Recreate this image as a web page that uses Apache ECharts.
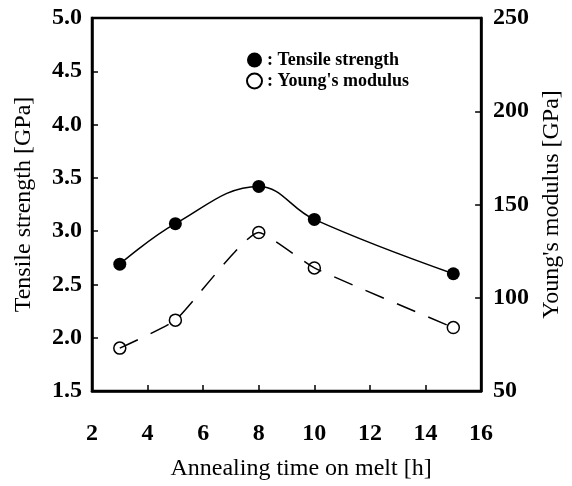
<!DOCTYPE html>
<html>
<head>
<meta charset="utf-8">
<title>Annealing time</title>
<script src="https://cdn.jsdelivr.net/npm/echarts@6/dist/echarts.min.js"></script>
<style>
    html, body { margin: 0; padding: 0; background: #fff; }
    #chart { width: 572px; height: 486px; }
</style>
</head>
<body>
<div id="chart"></div>
<script>
// 数据
var hours = [3, 5, 8, 10, 15];
var tensile = [2.69, 3.07, 3.42, 3.11, 2.60];
var young = [73, 88, 135, 116, 84];

var tensileName = 'Tensile strength';
var youngName = "Young's modulus";

function pairs(xs, ys) {
    var out = [];
    for (var i = 0; i < xs.length; i++) {
        out.push([xs[i], ys[i]]);
    }
    return out;
}

var font = 'Liberation Serif';
var chart = echarts.init(document.getElementById('chart'));

var tickStyle = { show: true, inside: true, length: 6, lineStyle: { color: '#000', width: 1.5 } };
var lineAxis = { show: true, lineStyle: { color: '#000', width: 2.5 } };

var option = {
    animation: false,
    backgroundColor: '#fff',
    grid: {
        left: 92,
        right: 89,
        top: 18,
        bottom: 89,
        show: true,
        borderColor: '#000',
        borderWidth: 2.5
    },
    legend: {
        orient: 'vertical',
        left: 241,
        top: 46,
        itemWidth: 15,
        itemHeight: 15,
        itemGap: 3,
        data: [tensileName, youngName],
        formatter: function (name) {
            return ': ' + name;
        },
        textStyle: {
            fontFamily: font,
            fontWeight: 'bold',
            fontSize: 18,
            color: '#000'
        }
    },
    xAxis: {
        type: 'value',
        min: 2,
        max: 16,
        interval: 2,
        name: 'Annealing time on melt [h]',
        nameLocation: 'middle',
        nameGap: 66,
        nameTextStyle: {
            fontFamily: font,
            fontSize: 24,
            color: '#000',
            padding: [0, 0, 0, 29]
        },
        axisLine: lineAxis,
        axisTick: tickStyle,
        axisLabel: {
            margin: 31,
            fontFamily: font,
            fontWeight: 'bold',
            fontSize: 24,
            color: '#000'
        },
        splitLine: { show: false }
    },
    yAxis: [
        {
            type: 'value',
            position: 'left',
            min: 1.5,
            max: 5.0,
            interval: 0.5,
            name: 'Tensile strength [GPa]',
            nameLocation: 'middle',
            nameGap: 56,
            nameTextStyle: { fontFamily: font, fontSize: 24, color: '#000' },
            axisLine: lineAxis,
            axisTick: tickStyle,
            axisLabel: {
                margin: 10,
                fontFamily: font,
                fontWeight: 'bold',
                fontSize: 24,
                color: '#000',
                formatter: function (v) { return v.toFixed(1); }
            },
            splitLine: { show: false }
        },
        {
            type: 'value',
            position: 'right',
            min: 50,
            max: 250,
            interval: 50,
            name: "Young's modulus [GPa]",
            nameLocation: 'middle',
            nameGap: 57,
            nameTextStyle: { fontFamily: font, fontSize: 24, color: '#000' },
            axisLine: lineAxis,
            axisTick: tickStyle,
            axisLabel: {
                margin: 12,
                fontFamily: font,
                fontWeight: 'bold',
                fontSize: 24,
                color: '#000'
            },
            splitLine: { show: false }
        }
    ],
    series: [
        // 曲线
        {
            name: 'tensile-curve',
            type: 'line',
            yAxisIndex: 0,
            smooth: 0.4,
            showSymbol: false,
            silent: true,
            lineStyle: { color: '#000', width: 1.5 },
            data: pairs(hours, tensile)
        },
        {
            name: 'young-curve',
            type: 'line',
            yAxisIndex: 1,
            smooth: 0.15,
            showSymbol: false,
            silent: true,
            lineStyle: { color: '#000', width: 1.5, type: [20, 14] },
            data: pairs(hours, young)
        },
        // 数据点
        {
            name: tensileName,
            type: 'scatter',
            yAxisIndex: 0,
            symbol: 'circle',
            symbolSize: 13,
            itemStyle: { color: '#000', opacity: 1 },
            data: pairs(hours, tensile)
        },
        {
            name: youngName,
            type: 'scatter',
            yAxisIndex: 1,
            symbol: 'circle',
            symbolSize: 12,
            itemStyle: { color: '#fff', borderColor: '#000', borderWidth: 1.5, opacity: 1 },
            data: pairs(hours, young)
        }
    ]
};

chart.setOption(option);
</script>
</body>
</html>
